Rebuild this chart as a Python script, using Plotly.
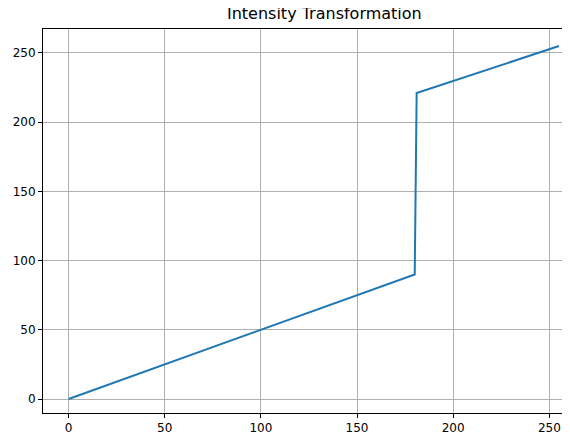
import plotly.graph_objects as go

x_vals = [0, 180, 181, 255]
y_vals = [0, 90, 221, 255]

fig = go.Figure(go.Scatter(x=x_vals, y=y_vals, mode="lines",
                           line=dict(color="#1f77b4", width=2)))
fig.update_layout(
    width=570, height=446, margin=dict(l=35, r=0, t=21, b=41, autoexpand=False),
    paper_bgcolor="white", plot_bgcolor="white",
    title=dict(text="Intensity Transformation", x=0.555, xanchor="center", y=0.987, yanchor="middle",
               font=dict(family="DejaVu Sans", size=16, color="black")),
    font=dict(family="DejaVu Sans", size=12, color="black"),
    showlegend=False,
)
axis = dict(showgrid=True, gridcolor="#b0b0b0", gridwidth=1, zeroline=False,
            showline=True, linecolor="black", linewidth=1, mirror=True,
            ticks="outside", ticklen=4, tickcolor="black", automargin=False)
fig.update_xaxes(range=[-13.3, 264.9], tickvals=[0, 50, 100, 150, 200, 250], **axis)
fig.update_yaxes(range=[-10.1, 267.3], tickvals=[0, 50, 100, 150, 200, 250], **axis)
fig.write_html("out.html")
